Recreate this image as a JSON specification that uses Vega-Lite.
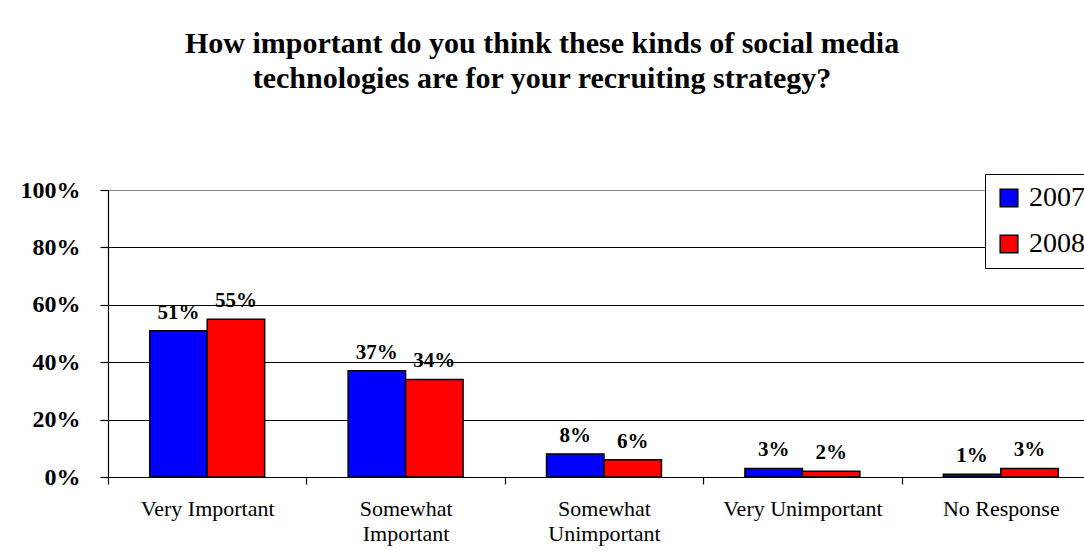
{
  "$schema": "https://vega.github.io/schema/vega-lite/v6.json",
  "width": 992,
  "height": 287,
  "autosize": {"type": "none"},
  "padding": {"left": 108, "top": 190, "right": 0, "bottom": 75},
  "background": "white",
  "title": {
    "text": ["How important do you think these kinds of social media", "technologies are for your recruiting strategy?"],
    "font": "Liberation Serif",
    "fontSize": 30,
    "fontWeight": "bold",
    "lineHeight": 35,
    "anchor": "middle",
    "dx": -62,
    "offset": 80,
    "color": "black"
  },
  "data": {
    "values": [
      {"category": "Very Important", "year": "2007", "value": 0.51},
      {"category": "Very Important", "year": "2008", "value": 0.55},
      {"category": "Somewhat Important", "year": "2007", "value": 0.37},
      {"category": "Somewhat Important", "year": "2008", "value": 0.34},
      {"category": "Somewhat Unimportant", "year": "2007", "value": 0.08},
      {"category": "Somewhat Unimportant", "year": "2008", "value": 0.06},
      {"category": "Very Unimportant", "year": "2007", "value": 0.03},
      {"category": "Very Unimportant", "year": "2008", "value": 0.02},
      {"category": "No Response", "year": "2007", "value": 0.01},
      {"category": "No Response", "year": "2008", "value": 0.03}
    ]
  },
  "encoding": {
    "x": {
      "field": "category",
      "type": "nominal",
      "sort": null,
      "scale": {"paddingInner": 0, "paddingOuter": 0},
      "axis": {
        "title": null,
        "labelAngle": 0,
        "tickBand": "extent",
        "domainColor": "black",
        "domainWidth": 1.2,
        "tickColor": "black",
        "tickWidth": 1.2,
        "tickSize": 7,
        "labelFont": "Liberation Serif",
        "labelFontSize": 22,
        "labelColor": "black",
        "labelPadding": 14,
        "labelLineHeight": 25,
        "labelBaseline": "top",
        "labelExpr": "indexof(datum.label, 'Somewhat') == 0 ? split(datum.label, ' ') : datum.label"
      }
    },
    "xOffset": {
      "field": "year",
      "type": "nominal",
      "scale": {"paddingInner": 0, "paddingOuter": 0.726}
    },
    "y": {
      "field": "value",
      "type": "quantitative",
      "scale": {"domain": [0, 1]},
      "axis": {
        "title": null,
        "values": [0, 0.2, 0.4, 0.6, 0.8, 1],
        "format": ".0%",
        "grid": true,
        "gridColor": {"condition": {"test": "datum.value == 1", "value": "#888888"}, "value": "black"},
        "gridOpacity": 1,
        "gridWidth": 1.2,
        "domainColor": "black",
        "domainWidth": 1.2,
        "tickColor": "black",
        "tickWidth": 1.2,
        "tickSize": 8,
        "labelFont": "Liberation Serif",
        "labelFontWeight": "bold",
        "labelFontSize": 24,
        "labelColor": "black",
        "labelPadding": 20
      }
    }
  },
  "layer": [
    {
      "mark": {"type": "bar", "stroke": "black", "strokeWidth": 1.5},
      "encoding": {
        "color": {
          "field": "year",
          "type": "nominal",
          "scale": {"domain": ["2007", "2008"], "range": ["#0000ff", "#ff0000"]},
          "legend": {
            "title": null,
            "orient": "none",
            "legendX": 877,
            "legendY": -16,
            "strokeColor": "black",
            "fillColor": "white",
            "padding": 10,
            "symbolType": "square",
            "symbolSize": 310,
            "symbolStrokeColor": "black",
            "symbolStrokeWidth": 1.5,
            "symbolOpacity": 1,
            "labelFont": "Liberation Serif",
            "labelFontSize": 28,
            "labelColor": "black",
            "labelOffset": 6,
            "rowPadding": 18
          }
        }
      }
    },
    {
      "mark": {"type": "text", "font": "Liberation Serif", "fontWeight": "bold", "fontSize": 21, "baseline": "bottom", "dy": -8, "color": "black"},
      "encoding": {
        "text": {"field": "value", "type": "quantitative", "format": ".0%"}
      }
    }
  ]
}
